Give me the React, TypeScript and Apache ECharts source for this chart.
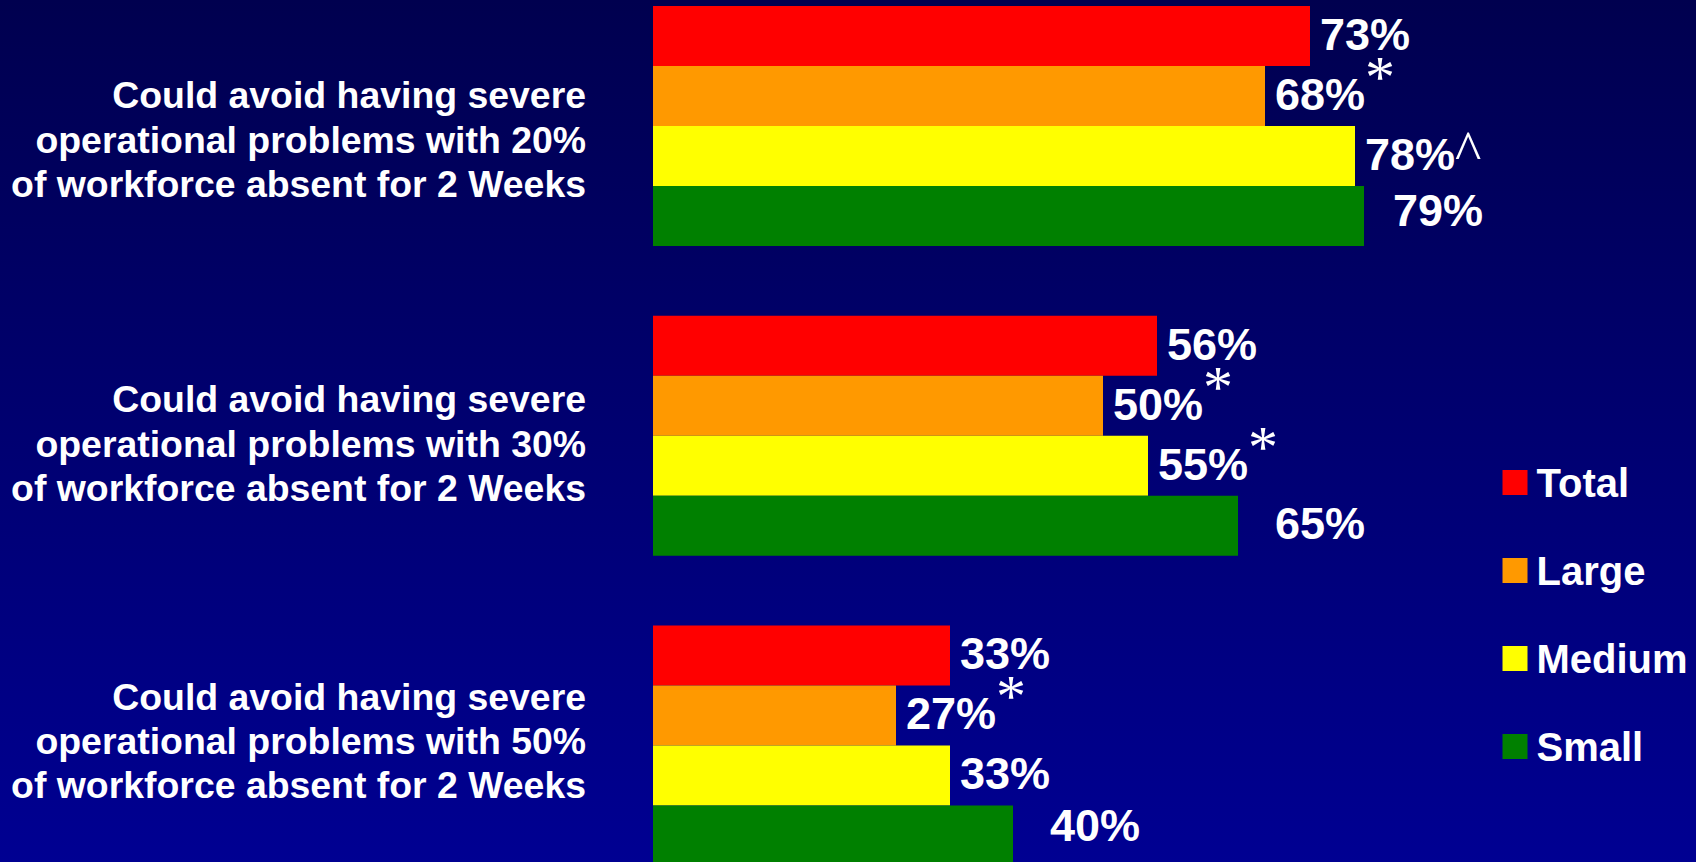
import React, { useEffect, useRef } from "react";
import * as echarts from "echarts";

// Category labels (one per group of bars)
const categories = [
  "Could avoid having severe\noperational problems with 20%\nof workforce absent for 2 Weeks",
  "Could avoid having severe\noperational problems with 30%\nof workforce absent for 2 Weeks",
  "Could avoid having severe\noperational problems with 50%\nof workforce absent for 2 Weeks",
];

const seriesNames = ["Total", "Large", "Medium", "Small"];
const seriesColors = ["#FF0000", "#FF9900", "#FFFF00", "#008000"];

// Percentages per group, top to bottom
const totalValues = [73, 56, 33];
const largeValues = [68, 50, 27];
const mediumValues = [78, 55, 33];
const smallValues = [79, 65, 40];

// Significance markers printed after each value
const totalMarks = ["", "", ""];
const largeMarks = ["*", "*", "*"];
const mediumMarks = ["^", "*", ""];
const smallMarks = ["", "", ""];

// Vertical nudge of each category label block (px, positive = down)
const categoryShift = [13.5, 7.8, -4.4];

const SANS = "'Liberation Sans', Arial, Helvetica, sans-serif";
const SERIF = "'Liberation Serif', 'Times New Roman', serif";

function valueLabel(value: number, mark: string) {
  let s = `{v|${value}%}`;
  if (mark === "*") s += `{a|*}`;
  if (mark === "^") s += `{c|^}`;
  return s;
}

// Multi-line category label; an invisible spacer line above or below
// moves the centred block down or up.
function categoryLabel(value: string, index: number) {
  const lines = value.split("\n").map((l) => `{t|${l}}`);
  const shift = categoryShift[index] || 0;
  if (shift > 0) lines.unshift(`{sd${index}| }`);
  if (shift < 0) lines.push(`{su${index}| }`);
  return lines.join("\n");
}

export default function App() {
  const ref = useRef<HTMLDivElement>(null);

  useEffect(() => {
    if (!ref.current) return;
    const chart = echarts.init(ref.current, undefined, { renderer: "svg" });

    const richLabel = {
      v: {
        fontFamily: SANS,
        fontWeight: "bold",
        fontSize: 45,
        color: "#FFFFFF",
        lineHeight: 50,
      },
      a: {
        fontFamily: SERIF,
        fontWeight: "normal",
        fontSize: 60,
        color: "#FFFFFF",
        lineHeight: 50,
        padding: [0, 0, 35, 0],
      },
      c: {
        fontFamily: SERIF,
        fontWeight: "normal",
        fontSize: 56,
        color: "#FFFFFF",
        lineHeight: 50,
        padding: [0, 0, 7, 0],
      },
    };

    const categoryRich: Record<string, any> = {
      t: {
        color: "#FFFFFF",
        fontFamily: SANS,
        fontWeight: "bold",
        fontSize: 37.4,
        lineHeight: 44.5,
        align: "right",
      },
    };
    categoryShift.forEach((s, i) => {
      const h = Math.abs(s) * 2;
      const spacer = { fontSize: 1, height: h, lineHeight: h, color: "rgba(0,0,0,0)" };
      categoryRich[`sd${i}`] = spacer;
      categoryRich[`su${i}`] = spacer;
    });

    const valueSets = [totalValues, largeValues, mediumValues, smallValues];
    const markSets = [totalMarks, largeMarks, mediumMarks, smallMarks];
    const smallDistance = [29, 37, 37];
    const smallLift = [-5.5, -2, -9.5];

    const series = seriesNames.map((name, si) => ({
      name,
      type: "bar",
      barWidth: 60,
      barGap: "0%",
      itemStyle: { color: seriesColors[si] },
      data: valueSets[si].map((v, i) => ({
        value: v,
        label: {
          show: true,
          position: "right",
          distance: si === 3 ? smallDistance[i] : 10,
          offset: si === 3 ? [0, smallLift[i]] : [0, -1.5],
          formatter: valueLabel(v, markSets[si][i]),
          rich: richLabel,
        },
      })),
    }));

    const option = {
      animation: false,
      backgroundColor: new echarts.graphic.LinearGradient(0, 0, 0, 1, [
        { offset: 0, color: "#00004F" },
        { offset: 1, color: "#000092" },
      ]),
      grid: {
        left: 653,
        width: 900,
        top: -28.85,
        height: 929.1,
        containLabel: false,
        outerBoundsMode: "none",
      },
      legend: {
        orient: "vertical",
        left: 1497.5,
        top: 457.5,
        icon: "rect",
        itemWidth: 25,
        itemHeight: 25,
        itemGap: 48,
        selectedMode: false,
        data: seriesNames,
        textStyle: {
          color: "#FFFFFF",
          fontFamily: SANS,
          fontWeight: "bold",
          fontSize: 40,
          lineHeight: 40,
          padding: [0, 0, 0, 4],
        },
      },
      xAxis: {
        type: "value",
        min: 0,
        max: 100,
        show: false,
      },
      yAxis: {
        type: "category",
        inverse: true,
        data: categories,
        axisLine: { show: false },
        axisTick: { show: false },
        splitLine: { show: false },
        axisLabel: {
          color: "#FFFFFF",
          fontFamily: SANS,
          fontWeight: "bold",
          fontSize: 37.4,
          lineHeight: 44.5,
          align: "right",
          margin: 67,
          formatter: categoryLabel,
          rich: categoryRich,
        },
      },
      series,
    };

    chart.setOption(option as any);
    return () => chart.dispose();
  }, []);

  return (
    <div
      ref={ref}
      style={{ position: "fixed", left: 0, top: 0, width: 1696, height: 862 }}
    />
  );
}
